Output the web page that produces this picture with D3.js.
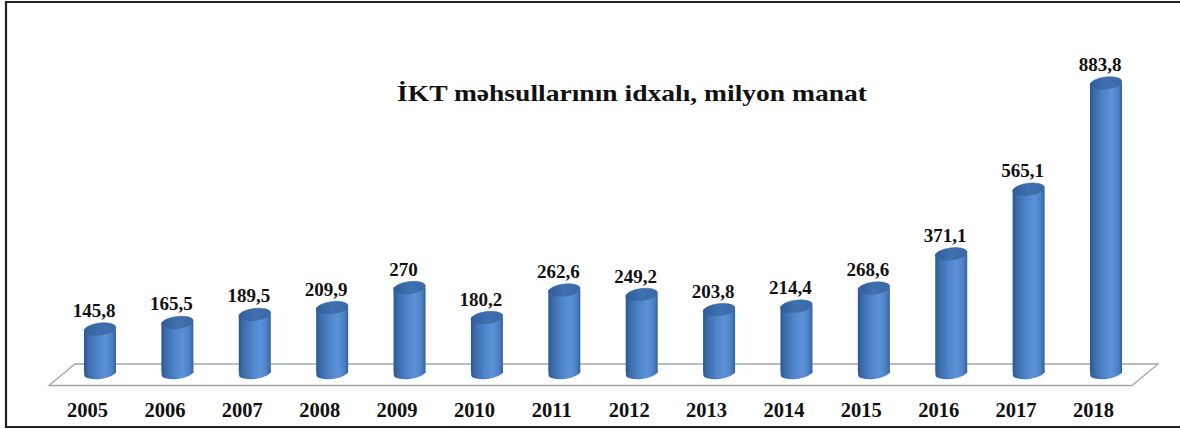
<!DOCTYPE html>
<html><head><meta charset="utf-8">
<script src="https://cdn.jsdelivr.net/npm/d3@7"></script>
<style>
html,body{margin:0;padding:0;background:#fff;}
svg{display:block;}
</style></head>
<body>
<svg id="c" width="1180" height="429"></svg>
<script>
const years = ["2005","2006","2007","2008","2009","2010","2011","2012","2013","2014","2015","2016","2017","2018"];
const values = [145.8,165.5,189.5,209.9,270,180.2,262.6,249.2,203.8,214.4,268.6,371.1,565.1,883.8];
const valueLabels = ["145,8","165,5","189,5","209,9","270","180,2","262,6","249,2","203,8","214,4","268,6","371,1","565,1","883,8"];
const title = "İKT məhsullarının idxalı, milyon manat";

const svg = d3.select("#c");
const W = 1180;
const serif = "Liberation Serif, Times New Roman, serif";

// frame (top, left, bottom)
svg.append("path").attr("d", `M${W},2 L6,2 L6,427 L${W},427`)
  .attr("fill","none").attr("stroke","#222").attr("stroke-width",2.2);

const x = d3.scalePoint().domain(years).range([100,1106]);
const y = d3.scaleLinear().domain([0,900]).range([377.6,77.6]);

// floor
const floorBackY = 364, floorFrontY = 385.5;
svg.append("path")
  .attr("d", `M49,${floorFrontY} L75,${floorBackY} L1158,${floorBackY} L1132,${floorFrontY} Z`)
  .attr("fill","#fff").attr("stroke","#a6a6a6").attr("stroke-width",1.3);

const defs = svg.append("defs");
const g = defs.append("linearGradient").attr("id","cyl").attr("x1","0").attr("x2","1").attr("y1","0").attr("y2","0");
[[0,"#2b5790"],[0.12,"#3b6aa9"],[0.45,"#5087cc"],[0.68,"#5b92d8"],[0.88,"#4c80c2"],[1,"#33619d"]]
  .forEach(([o,c])=>g.append("stop").attr("offset",o).attr("stop-color",c));
const gt = defs.append("linearGradient").attr("id","cyltop").attr("x1","0").attr("x2","1").attr("y1","0").attr("y2","0");
[[0,"#2f5d98"],[0.5,"#3f70b0"],[1,"#3a69a6"]]
  .forEach(([o,c])=>gt.append("stop").attr("offset",o).attr("stop-color",c));

const rx = 16, ry = 6, tilt = -7;
const base = 373;
const bars = svg.append("g").selectAll("g").data(years).join("g");
bars.each(function(d,i){
  const gg = d3.select(this);
  const cx = x(d), top = y(values[i]);
  gg.append("ellipse").attr("cx",cx).attr("cy",base).attr("rx",rx).attr("ry",ry)
    .attr("transform",`rotate(${tilt},${cx},${base})`).attr("fill","url(#cyl)");
  gg.append("rect").attr("x",cx-rx).attr("y",top).attr("width",rx*2).attr("height",base-top)
    .attr("fill","url(#cyl)");
  gg.append("ellipse").attr("cx",cx).attr("cy",top).attr("rx",rx).attr("ry",ry)
    .attr("transform",`rotate(${tilt},${cx},${top})`).attr("fill","url(#cyltop)")
    .attr("stroke","#3a67a2").attr("stroke-width",0.6);
  gg.append("text").attr("x",cx-6).attr("y",top-12).attr("text-anchor","middle")
    .style("font-family",serif).style("font-weight","bold").style("font-size","19px")
    .attr("fill","#111").text(valueLabels[i]);
  gg.append("text").attr("x",cx-12.5).attr("y",417).attr("text-anchor","middle")
    .style("font-family",serif).style("font-weight","bold").style("font-size","20.5px")
    .attr("fill","#111").text(d);
});

svg.append("text").attr("x",632).attr("y",101).attr("text-anchor","middle")
  .style("font-family",serif).style("font-weight","bold").style("font-size","23px")
  .attr("textLength",470).attr("lengthAdjust","spacingAndGlyphs")
  .attr("fill","#111").text(title);
</script>
</body></html>
